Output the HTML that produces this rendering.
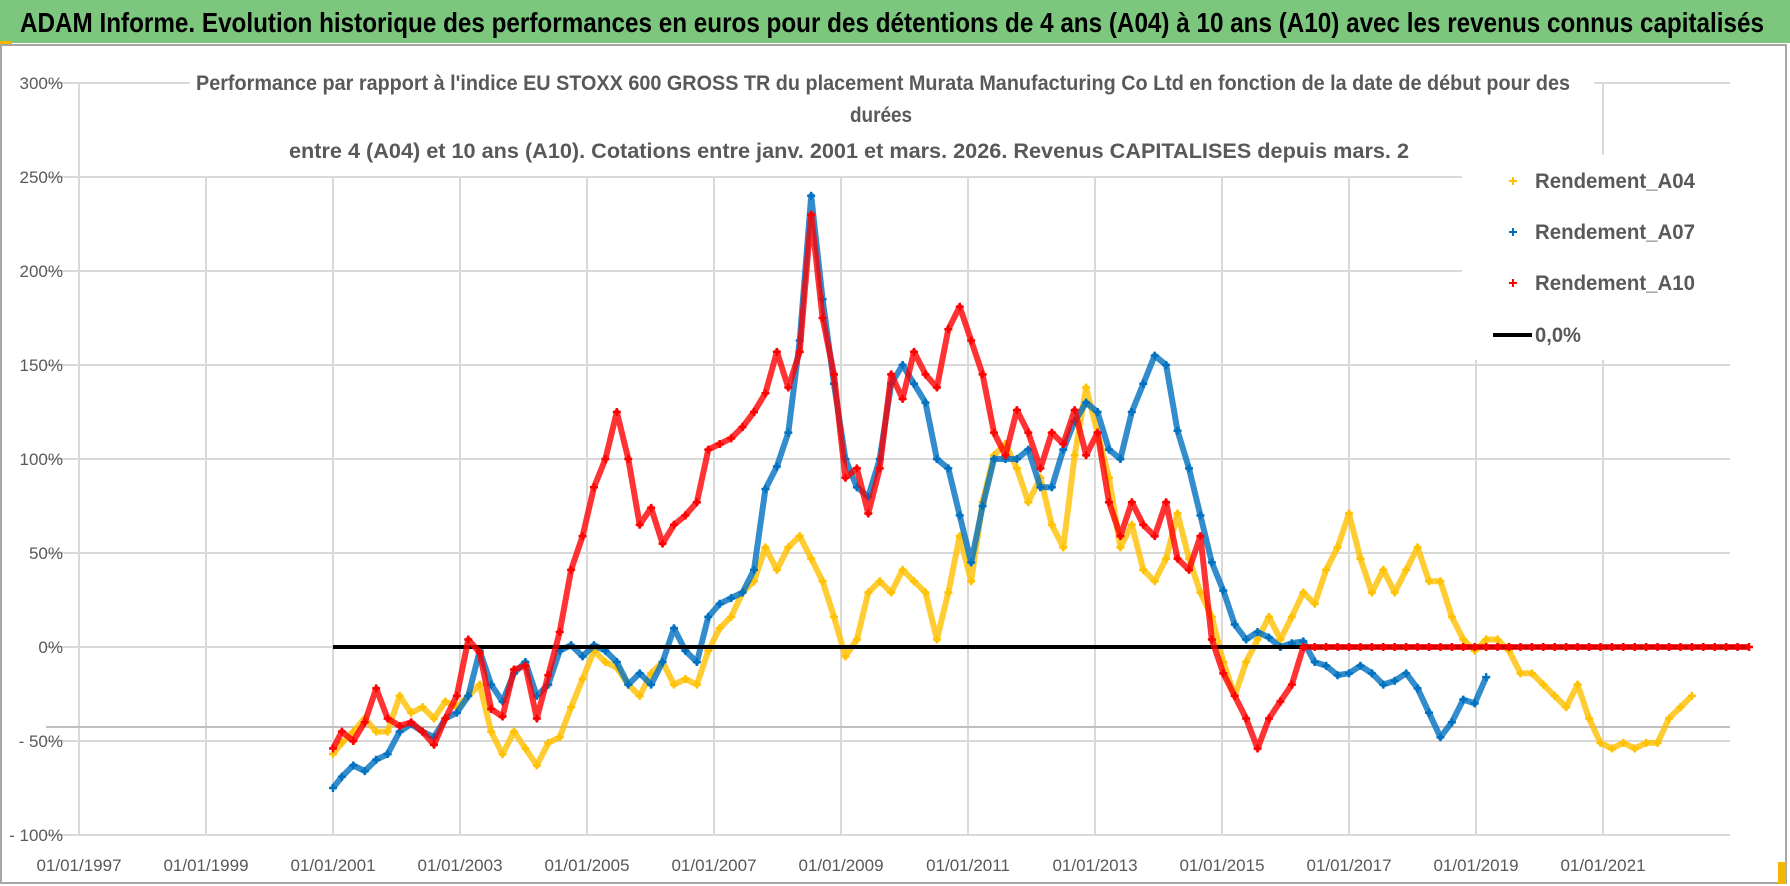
<!DOCTYPE html>
<html><head><meta charset="utf-8"><style>
html,body{margin:0;padding:0;background:#fff}
svg{display:block}
text{font-family:"Liberation Sans",sans-serif}
</style></head><body>
<svg id="chart" width="1790" height="886" viewBox="0 0 1790 886" xmlns="http://www.w3.org/2000/svg">
<rect x="0" y="0" width="1790" height="886" fill="#fff"/>
<rect x="0" y="0" width="1790" height="43" fill="#7cc67e"/>
<text x="20" y="32" font-size="28" font-weight="bold" fill="#000" textLength="1744" lengthAdjust="spacingAndGlyphs">ADAM Informe. Evolution historique des performances en euros pour des détentions de 4 ans (A04) à 10 ans (A10) avec les revenus connus capitalisés</text>
<rect x="0" y="41" width="12" height="4" fill="#f2b800"/>
<rect x="1" y="45" width="1785" height="838" fill="none" stroke="#a6a6a6" stroke-width="2"/>
<g id="grid"></g>
<line x1="46" y1="727" x2="1730" y2="727" stroke="#bfbfbf" stroke-width="2"/>
<g id="marks"></g>
<rect x="190" y="58" width="1404" height="118" fill="#fff"/>
<g font-size="21" font-weight="bold" fill="#595959">
<text x="196" y="90" textLength="1374" lengthAdjust="spacingAndGlyphs">Performance par rapport à l'indice EU STOXX 600 GROSS TR  du placement Murata Manufacturing Co Ltd en fonction de la date de début pour des</text>
<text x="850" y="122" textLength="62" lengthAdjust="spacingAndGlyphs">durées</text>
<text x="289" y="158" textLength="1120" lengthAdjust="spacingAndGlyphs">entre 4 (A04) et 10 ans (A10). Cotations entre janv. 2001 et mars. 2026. Revenus CAPITALISES depuis mars. 2</text>
</g>
<rect x="1462" y="155" width="268" height="205" fill="#fff"/>
<g font-size="21" font-weight="bold" fill="#595959">
<g><path d="M1509 181h8M1513 177v8" stroke="#FFC000" stroke-width="2"/><text x="1535" y="188" textLength="160" lengthAdjust="spacingAndGlyphs">Rendement_A04</text></g>
<g><path d="M1509 232h8M1513 228v8" stroke="#0070C0" stroke-width="2"/><text x="1535" y="239" textLength="160" lengthAdjust="spacingAndGlyphs">Rendement_A07</text></g>
<g><path d="M1509 283h8M1513 279v8" stroke="#FF0000" stroke-width="2"/><text x="1535" y="290" textLength="160" lengthAdjust="spacingAndGlyphs">Rendement_A10</text></g>
<g><line x1="1493" y1="335" x2="1532" y2="335" stroke="#000" stroke-width="4"/><text x="1535" y="342" textLength="46" lengthAdjust="spacingAndGlyphs">0,0%</text></g>
</g>
<rect x="1778" y="862" width="8" height="22" fill="#f2b800"/>
</svg>
<script>
const dates=[2001.00,2001.14,2001.32,2001.50,2001.68,2001.86,2002.05,2002.23,2002.41,2002.59,2002.77,2002.95,2003.13,2003.31,2003.49,2003.67,2003.85,2004.03,2004.21,2004.39,2004.57,2004.75,2004.93,2005.11,2005.29,2005.47,2005.65,2005.83,2006.01,2006.19,2006.37,2006.55,2006.73,2006.91,2007.09,2007.27,2007.45,2007.63,2007.81,2007.99,2008.17,2008.35,2008.53,2008.71,2008.89,2009.07,2009.25,2009.43,2009.61,2009.79,2009.97,2010.15,2010.33,2010.51,2010.69,2010.87,2011.05,2011.23,2011.41,2011.59,2011.77,2011.95,2012.14,2012.32,2012.50,2012.68,2012.86,2013.04,2013.22,2013.40,2013.58,2013.76,2013.94,2014.12,2014.30,2014.48,2014.66,2014.84,2015.02,2015.20,2015.38,2015.56,2015.74,2015.92,2016.10,2016.28,2016.46,2016.64,2016.82,2017.00,2017.18,2017.36,2017.54,2017.72,2017.90,2018.08,2018.26,2018.44,2018.62,2018.80,2018.98,2019.16,2019.34,2019.52,2019.70,2019.88,2020.06,2020.24,2020.42,2020.60,2020.78,2020.96,2021.14,2021.32,2021.50,2021.68,2021.86,2022.04,2022.22,2022.40,2022.58,2022.76,2022.94,2023.12,2023.30];
const a04=[-57,-51,-45,-38,-45,-45,-26,-35,-32,-38,-29,-32,-26,-20,-45,-57,-45,-54,-63,-51,-48,-32,-17,-2,-8,-11,-20,-26,-14,-8,-20,-17,-20,-2,10,16,29,35,53,41,53,59,47,35,16,-5,4,29,35,29,41,35,29,4,29,59,35,77,102,108,95,77,90,65,53,102,138,114,90,53,65,41,35,47,71,47,29,16,-8,-26,-8,4,16,4,16,29,23,41,53,71,47,29,41,29,41,53,35,35,16,4,-2,4,4,-2,-14,-14,-20,-26,-32,-20,-38,-51,-54,-51,-54,-51,-51,-38,-32,-26,null,null,null,null,null];
const a07=[-75,-69,-63,-66,-60,-57,-45,-41,-45,-48,-38,-35,-26,-2,-20,-29,-14,-8,-26,-20,-2,1,-5,1,-2,-8,-20,-14,-20,-8,10,-2,-8,16,23,26,29,41,84,96,114,163,240,185,140,100,85,80,100,140,150,140,130,100,95,70,45,75,100,100,100,105,85,85,105,120,130,125,105,100,125,140,155,150,115,95,70,45,30,12,4,8,5,0,2,3,-8,-10,-15,-14,-10,-14,-20,-18,-14,-22,-35,-48,-40,-28,-30,-16,null,null,null,null,null,null,null,null,null,null,null,null,null,null,null,null,null,null,null,null,null,null,null];
const a10=[-54,-45,-50,-40,-22,-38,-42,-40,-45,-52,-38,-26,4,-3,-33,-37,-12,-10,-38,-15,8,41,59,85,100,125,100,65,74,55,65,70,77,105,108,111,117,125,135,157,138,157,230,175,145,90,95,71,95,145,132,157,145,138,169,181,163,145,114,102,126,114,95,114,108,126,102,114,77,59,77,65,59,77,47,41,59,4,-14,-26,-38,-54,-38,-29,-20,0,0,0,0,0,0,0,0,0,0,0,0,0,0,0,0,0,0,0,0,0,0,0,0,0,0,0,0,0,0,0,0,0,0,0,0,0,0,0,0];
const yTicks=[300,250,200,150,100,50,0,-50,-100];
const yTickLabels=["300%","250%","200%","150%","100%","50%","0%","- 50%","- 100%"];
const xTicks=[1997,1999,2001,2003,2005,2007,2009,2011,2013,2015,2017,2019,2021];
const xTickLabels=["01/01/1997","01/01/1999","01/01/2001","01/01/2003","01/01/2005","01/01/2007","01/01/2009","01/01/2011","01/01/2013","01/01/2015","01/01/2017","01/01/2019","01/01/2021"];
const zeroStart=2001.0, zeroEnd=2023.3;

const NS="http://www.w3.org/2000/svg";
const X0=79, PXY=63.5, YZ=647, PXP=1.88, PLOT_R=1730;
function xs(y){return X0+(y-1997)*PXY;}
function ys(v){return YZ-v*PXP;}
function mk(tag,attrs,parent){const e=document.createElementNS(NS,tag);for(const k in attrs)e.setAttribute(k,attrs[k]);parent.appendChild(e);return e;}
const grid=document.getElementById('grid'), marks=document.getElementById('marks');
yTicks.forEach((v,i)=>{
  const l=mk('line',{x1:46,x2:PLOT_R,y1:ys(v),y2:ys(v),stroke:'#d9d9d9','stroke-width':2},grid);
  
  
  const t=mk('text',{x:63,y:ys(v)+6,'text-anchor':'end','font-size':17,fill:'#595959'},grid);
  t.textContent=yTickLabels[i];
  
  
});
xTicks.forEach((yr,i)=>{
  const l=mk('line',{x1:xs(yr),x2:xs(yr),y1:ys(300),y2:ys(-100),stroke:'#d9d9d9','stroke-width':2},grid);
  
  
  const t=mk('text',{x:xs(yr),y:871,'text-anchor':'middle','font-size':17,fill:'#595959'},grid);
  t.textContent=xTickLabels[i];
  
  
});
function series(vals,color,name){
  const g=mk('g',{},marks);
  
  
  let seg=[];
  const flush=()=>{if(seg.length>1){mk('polyline',{points:seg.join(' '),fill:'none',stroke:color,'stroke-width':6,'stroke-linejoin':'round',opacity:0.8},g);}seg=[];};
  vals.forEach((v,i)=>{
    if(v===null){flush();return;}
    const x=xs(dates[i]),y=ys(v);
    seg.push(x.toFixed(1)+','+y.toFixed(1));
    const p=mk('path',{d:`M${x-4} ${y}h8M${x} ${y-4}v8`,stroke:color,'stroke-width':2.5},g);
    
    
  });
  flush();
}
series(a04,'#FFC000','series-a04');
series(a07,'#0070C0','series-a07');
const z=mk('line',{x1:xs(zeroStart),x2:xs(zeroEnd),y1:ys(0),y2:ys(0),stroke:'#000','stroke-width':4},marks);


series(a10,'#FF0000','series-a10');
</script>
</body></html>
